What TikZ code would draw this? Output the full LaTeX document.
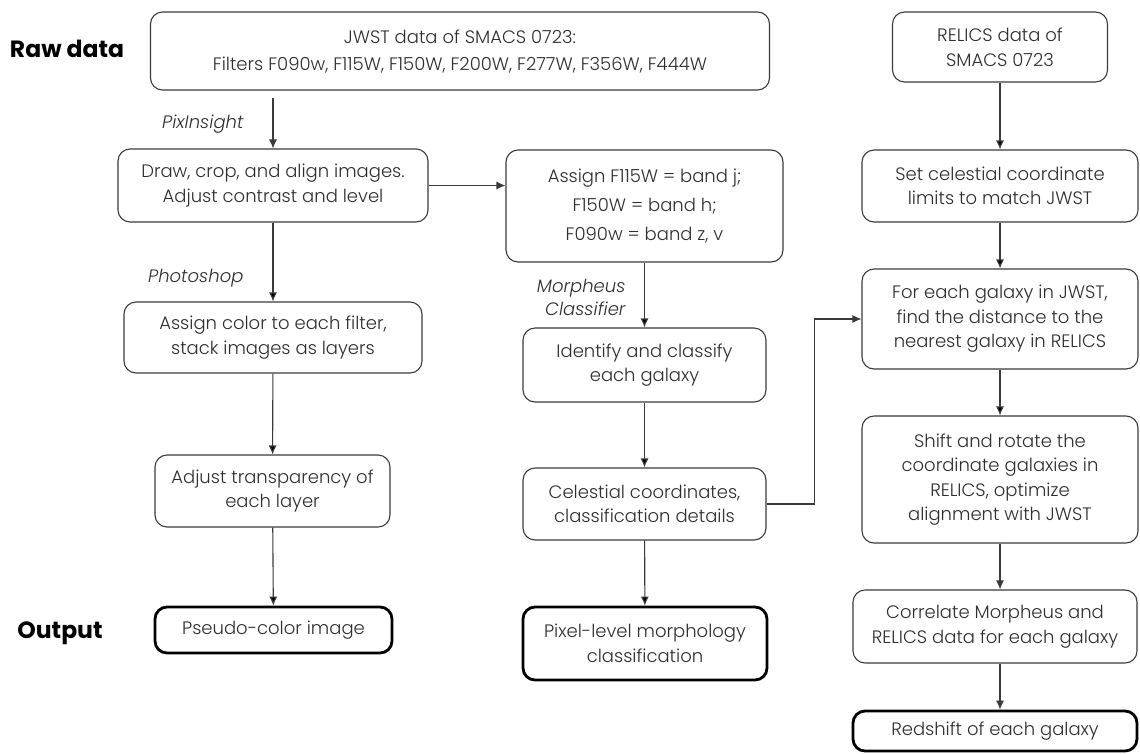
\documentclass[tikz,border=0pt]{standalone}
\usepackage{fontspec}
\IfFontExistsTF{Poppins Light}
  {\setmainfont{Poppins Light}[BoldFont=Poppins Bold,ItalicFont=Poppins Light Italic]}
  {\setmainfont{Poppins}}
\usetikzlibrary{positioning,arrows.meta}
\definecolor{inkgray}{HTML}{2E2E2E}
\definecolor{linegray}{HTML}{3A3A3A}

\begin{document}
\begin{tikzpicture}[x=1pt,y=-1pt,>={Latex[length=9pt,width=8pt]},
                    step node/.style={draw=linegray,rounded corners=12pt,line width=1.1pt,align=center,
                                      text=inkgray,inner sep=0pt,font=\fontsize{18}{24.5}\selectfont},
                    out node/.style={step node,draw=black,line width=2.8pt},
                    tool label/.style={anchor=east,align=right,text=inkgray,font=\fontsize{18}{23}\selectfont\itshape},
                    row label/.style={font=\fontsize{23.5}{26}\selectfont\bfseries}]

  \useasboundingbox (0,0) rectangle (1140,753);

  \node[row label] (raw) at (67,49) {Raw data};
  \node[row label] (out) at (60,633) {Output};

  % left column
  \node[step node,minimum width=619,minimum height=78,font=\fontsize{18}{27}\selectfont] (jwst) at (460,51)
    {JWST data of SMACS 0723:\\Filters F090w, F115W, F150W, F200W, F277W, F356W, F444W};
  \node[step node,minimum width=310,minimum height=73] (draw) at (273,185.5)
    {Draw, crop, and align images.\\Adjust contrast and level};
  \node[step node,minimum width=298,minimum height=71] (color) at (273,337.5)
    {Assign color to each filter,\\stack images as layers};
  \node[step node,minimum width=235,minimum height=72] (transp) at (272.5,491)
    {Adjust transparency of\\each layer};
  \node[out node,minimum width=237,minimum height=46] (pseudo) at (273.5,630)
    {Pseudo-color image};

  % middle column
  \node[step node,minimum width=277,minimum height=112,font=\fontsize{18}{29}\selectfont] (assign) at (644.5,206)
    {Assign F115W = band j;\\F150W = band h;\\F090w = band z, v};
  \node[step node,minimum width=243,minimum height=74] (identify) at (644.5,365)
    {Identify and classify\\each galaxy};
  \node[step node,minimum width=243,minimum height=72] (celest) at (644.5,504)
    {Celestial coordinates,\\classification details};
  \node[out node,minimum width=244,minimum height=73] (pixel) at (645,643.5)
    {Pixel-level morphology\\classification};

  % right column
  \node[step node,minimum width=215,minimum height=70] (relics) at (1000,47)
    {RELICS data of\\SMACS 0723};
  \node[step node,minimum width=276,minimum height=72] (limits) at (1000,186)
    {Set celestial coordinate\\limits to match JWST};
  \node[step node,minimum width=276,minimum height=100] (foreach) at (1000,319)
    {For each galaxy in JWST,\\find the distance to the\\nearest galaxy in RELICS};
  \node[step node,minimum width=276,minimum height=127] (shift) at (1000,479.5)
    {Shift and rotate the\\coordinate galaxies in\\RELICS, optimize\\alignment with JWST};
  \node[step node,minimum width=284,minimum height=73] (corr) at (995,626.5)
    {Correlate Morpheus and\\RELICS data for each galaxy};
  \node[out node,minimum width=284,minimum height=40] (redshift) at (995,731)
    {Redshift of each galaxy};

  % tools
  \node[tool label] (pix) at (247,124) {PixInsight};
  \node[tool label] (ps) at (247,278) {Photoshop};
  \node[tool label] (morph) at (629,297) {Morpheus\\Classifier};

  \path[->,draw=linegray,line width=1.1pt]
  (draw) edge (color)
  (color) edge (transp)
  (transp) edge (pseudo)
  (assign) edge (identify)
  (identify) edge (celest)
  (celest) edge (pixel)
  (relics) edge (limits)
  (limits) edge (foreach)
  (foreach) edge (shift);

  \draw[->,draw=linegray,line width=1.1pt,shorten <=7pt] (draw.north |- jwst.south) -- (draw.north);
  \draw[->,draw=linegray,line width=1.1pt] (draw.east) -- (draw.east -| assign.west);
  \draw[->,draw=linegray,line width=1.1pt] (shift.south) -- (shift.south |- corr.north);
  \draw[->,draw=linegray,line width=1.1pt] (shift.south |- corr.south) -- (shift.south |- redshift.north);
  \draw[->,draw=linegray,line width=1.1pt] (celest.east) -- ++(48,0) |- (foreach.west);

\end{tikzpicture}
\end{document}
